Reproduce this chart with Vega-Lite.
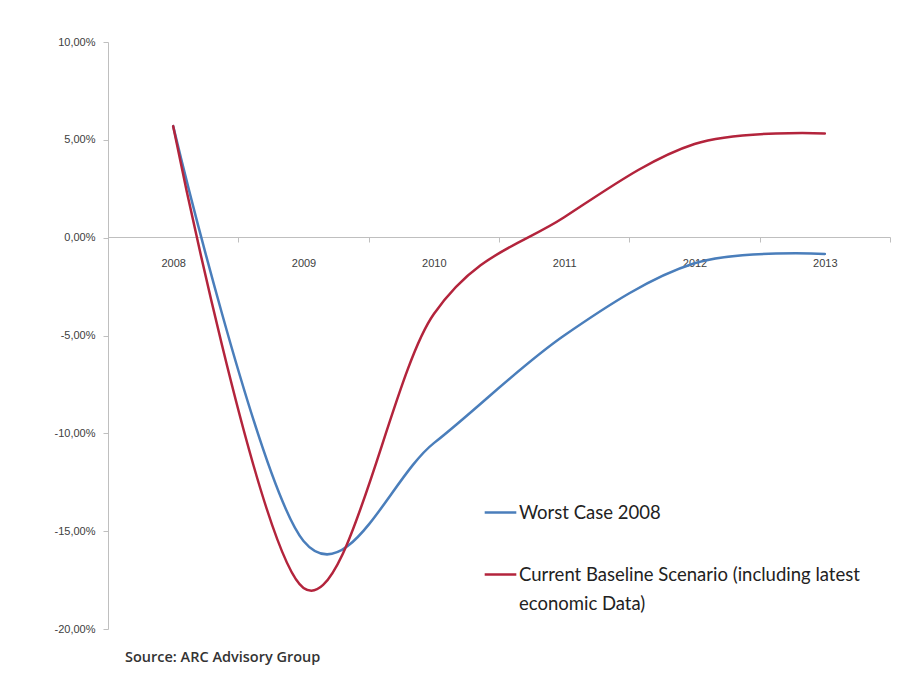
{
  "$schema": "https://vega.github.io/schema/vega-lite/v6.json",
  "width": 782,
  "height": 587,
  "autosize": {"type": "none"},
  "padding": {"left": 108, "top": 42, "right": 28, "bottom": 46},
  "background": "white",
  "config": {
    "view": {"stroke": null},
    "locale": {"number": {"decimal": ",", "thousands": ".", "grouping": [3], "currency": ["", " €"], "minus": "-"}},
    "font": "Lato"
  },
  "title": {
    "text": "Source: ARC Advisory Group",
    "orient": "bottom",
    "anchor": "start",
    "frame": "group",
    "offset": 17,
    "dx": 17,
    "font": "Open Sans",
    "fontSize": 14.5,
    "fontWeight": 600,
    "color": "#333333"
  },
  "data": {
    "values": [
      {"year": "2008", "series": "Worst Case 2008", "value": 0.057},
      {"year": "2009", "series": "Worst Case 2008", "value": -0.155},
      {"year": "2010", "series": "Worst Case 2008", "value": -0.105},
      {"year": "2011", "series": "Worst Case 2008", "value": -0.050},
      {"year": "2012", "series": "Worst Case 2008", "value": -0.0131},
      {"year": "2013", "series": "Worst Case 2008", "value": -0.0083},
      {"year": "2008", "series": "Current Baseline Scenario (including latest economic Data)", "value": 0.057},
      {"year": "2009", "series": "Current Baseline Scenario (including latest economic Data)", "value": -0.179},
      {"year": "2010", "series": "Current Baseline Scenario (including latest economic Data)", "value": -0.039},
      {"year": "2011", "series": "Current Baseline Scenario (including latest economic Data)", "value": 0.0104},
      {"year": "2012", "series": "Current Baseline Scenario (including latest economic Data)", "value": 0.0479},
      {"year": "2013", "series": "Current Baseline Scenario (including latest economic Data)", "value": 0.0533}
    ]
  },
  "mark": {"type": "line", "interpolate": "cardinal", "strokeWidth": 2.5, "strokeCap": "round"},
  "encoding": {
    "x": {
      "field": "year",
      "type": "ordinal",
      "bandPosition": 0.5,
      "scale": {"type": "band", "paddingInner": 0, "paddingOuter": 0},
      "axis": {
        "title": null,
        "orient": "bottom",
        "offset": -392,
        "labelAngle": 0,
        "tickBand": "extent",
        "tickSize": 5,
        "tickColor": "#bfbfbf",
        "domainColor": "#bfbfbf",
        "labelColor": "#404040",
        "labelFont": "Liberation Sans",
        "labelFontSize": 11,
        "labelPadding": 15,
        "grid": false
      }
    },
    "y": {
      "field": "value",
      "type": "quantitative",
      "scale": {"domain": [-0.2, 0.1], "nice": false, "zero": false},
      "axis": {
        "title": null,
        "values": [-0.2, -0.15, -0.1, -0.05, 0, 0.05, 0.1],
        "format": ".2%",
        "grid": false,
        "tickSize": 5,
        "tickColor": "#bfbfbf",
        "domainColor": "#bfbfbf",
        "labelColor": "#404040",
        "labelFont": "Liberation Sans",
        "labelFontSize": 11,
        "labelPadding": 8
      }
    },
    "color": {
      "field": "series",
      "type": "nominal",
      "sort": null,
      "scale": {
        "domain": ["Worst Case 2008", "Current Baseline Scenario (including latest economic Data)"],
        "range": ["#4a7ebb", "#b3243c"]
      },
      "legend": {
        "title": null,
        "orient": "none",
        "legendX": 375,
        "legendY": 453,
        "symbolType": "stroke",
        "symbolSize": 1000,
        "symbolStrokeWidth": 2.5,
        "labelFont": "Lato",
        "labelFontSize": 18.5,
        "labelColor": "#222222",
        "labelLimit": 500,
        "labelOffset": 1,
        "labelBaseline": "middle",
        "rowPadding": 35,
        "labelExpr": "datum.label == 'Worst Case 2008' ? datum.label : ['Current Baseline Scenario (including latest', 'economic Data)']",
        "encode": {"labels": {"update": {"lineHeight": {"value": 29}}}}
      }
    }
  }
}
